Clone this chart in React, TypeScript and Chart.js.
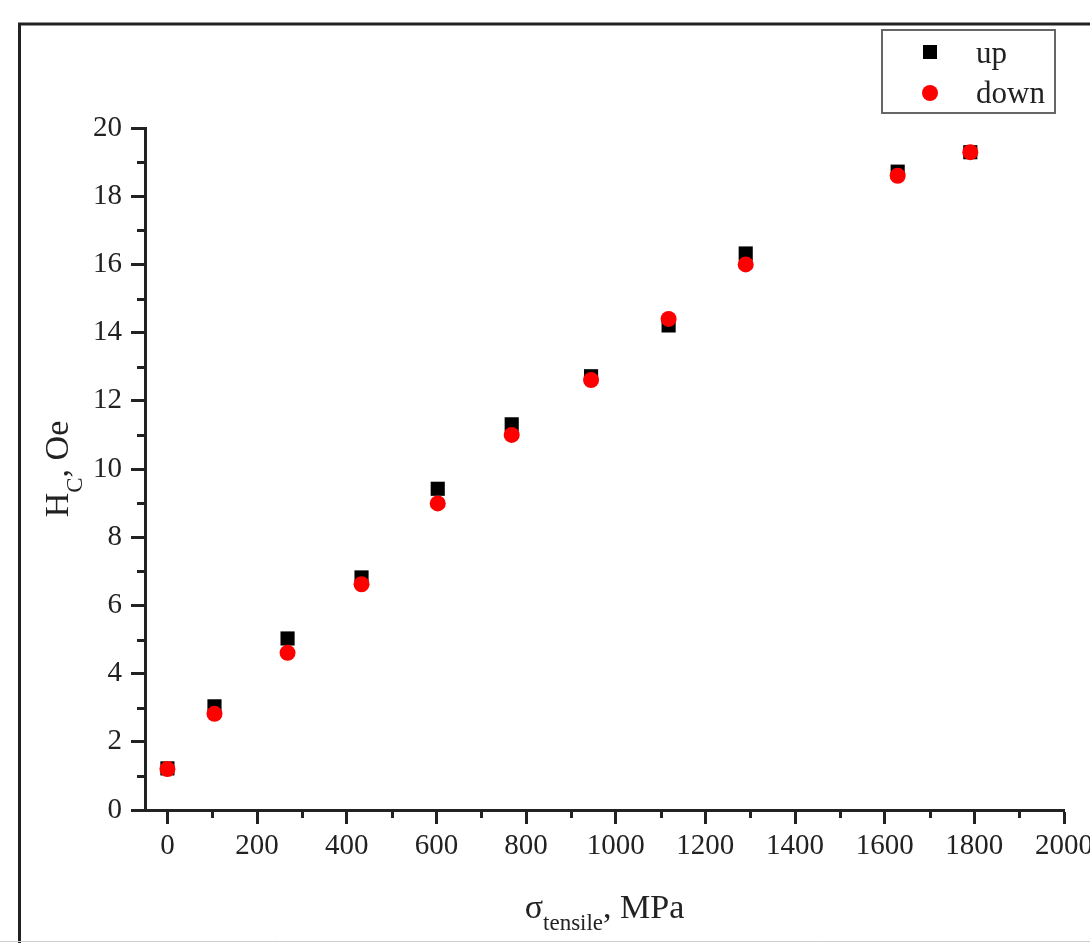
import React, { useEffect, useRef } from "react";
import { Chart, registerables } from "chart.js";

Chart.register(...registerables);

// ---- data ----
const STRESS_MPA = [0, 105, 268, 433, 603, 768, 945, 1118, 1290, 1629, 1791];
const HC_UP = [1.22, 3.04, 5.03, 6.82, 9.42, 11.31, 12.72, 14.21, 16.32, 18.72, 19.29];
const HC_DOWN = [1.2, 2.82, 4.61, 6.62, 8.99, 11.0, 12.61, 14.4, 16.0, 18.6, 19.29];
const SERIES_LABELS = ["up", "down"];

const X_TICKS = [0, 200, 400, 600, 800, 1000, 1200, 1400, 1600, 1800, 2000];
const X_MINOR = [100, 300, 500, 700, 900, 1100, 1300, 1500, 1700, 1900];
const Y_TICKS = [0, 2, 4, 6, 8, 10, 12, 14, 16, 18, 20];
const Y_MINOR = [1, 3, 5, 7, 9, 11, 13, 15, 17, 19];

const W = 1090;
const H = 943;
const SERIF = '"Liberation Serif", "Times New Roman", serif';
const INK = "#222222";

const decorPlugin = {
  id: "decor",
  afterDraw(chart: any) {
    const ctx = chart.ctx as CanvasRenderingContext2D;
    const area = chart.chartArea;
    const xs = chart.scales.x;
    const ys = chart.scales.y;
    ctx.save();

    // outer frame
    ctx.strokeStyle = INK;
    ctx.lineWidth = 3;
    ctx.beginPath();
    ctx.moveTo(19.5, H);
    ctx.lineTo(19.5, 24);
    ctx.lineTo(W, 24);
    ctx.stroke();
    ctx.strokeStyle = "#cfcfcf";
    ctx.lineWidth = 1;
    ctx.beginPath();
    ctx.moveTo(0, 941.5);
    ctx.lineTo(W, 941.5);
    ctx.stroke();

    // minor ticks
    ctx.strokeStyle = INK;
    ctx.lineWidth = 3;
    ctx.beginPath();
    for (const v of Y_MINOR) {
      const p = Math.round(ys.getPixelForValue(v)) + 0.5;
      ctx.moveTo(area.left - 8, p);
      ctx.lineTo(area.left, p);
    }
    for (const v of X_MINOR) {
      const p = Math.round(xs.getPixelForValue(v)) + 0.5;
      ctx.moveTo(p, area.bottom);
      ctx.lineTo(p, area.bottom + 8);
    }
    ctx.stroke();

    // x title: σ_tensile, MPa
    const mainF = `34px ${SERIF}`;
    const subF = `23px ${SERIF}`;
    ctx.fillStyle = INK;
    ctx.textBaseline = "alphabetic";
    ctx.textAlign = "left";
    const parts = [
      { t: "σ", f: mainF, dy: 0 },
      { t: "tensile", f: subF, dy: 12 },
      { t: ",", f: mainF, dy: 0 },
      { t: " MPa", f: mainF, dy: 0 },
    ];
    let total = 0;
    for (const p of parts) {
      ctx.font = p.f;
      total += ctx.measureText(p.t).width;
    }
    let cx = (area.left + area.right) / 2 - total / 2;
    for (const p of parts) {
      ctx.font = p.f;
      ctx.fillText(p.t, cx, 918 + p.dy);
      cx += ctx.measureText(p.t).width;
    }

    // y title: H_C, Oe (rotated)
    const yparts = [
      { t: "H", f: mainF, dy: 0 },
      { t: "C", f: subF, dy: 14 },
      { t: ", Oe", f: mainF, dy: 0 },
    ];
    let ytotal = 0;
    for (const p of yparts) {
      ctx.font = p.f;
      ytotal += ctx.measureText(p.t).width;
    }
    ctx.save();
    ctx.translate(68, (area.top + area.bottom) / 2 + ytotal / 2);
    ctx.rotate(-Math.PI / 2);
    let yx = 0;
    for (const p of yparts) {
      ctx.font = p.f;
      ctx.fillText(p.t, yx, p.dy);
      yx += ctx.measureText(p.t).width;
    }
    ctx.restore();

    // legend
    ctx.strokeStyle = "#666666";
    ctx.lineWidth = 2;
    ctx.strokeRect(882, 30, 173, 83);
    const ds = chart.data.datasets;
    ctx.fillStyle = ds[0].backgroundColor;
    ctx.fillRect(923, 45, 14, 14);
    ctx.fillStyle = ds[1].backgroundColor;
    ctx.beginPath();
    ctx.arc(930, 93, 8, 0, Math.PI * 2);
    ctx.fill();
    ctx.fillStyle = INK;
    ctx.font = `31px ${SERIF}`;
    ctx.fillText(ds[0].label, 976, 63);
    ctx.fillText(ds[1].label, 976, 103);

    ctx.restore();
  },
};

export default function App() {
  const ref = useRef<HTMLCanvasElement | null>(null);

  useEffect(() => {
    if (!ref.current) return;
    const chart = new Chart(ref.current, {
      type: "scatter",
      data: {
        datasets: [
          {
            label: SERIES_LABELS[0],
            data: STRESS_MPA.map((x, i) => ({ x, y: HC_UP[i] })),
            backgroundColor: "#000000",
            borderColor: "#000000",
            pointStyle: "rect",
            pointRadius: 10,
            pointBorderWidth: 0,
            order: 1,
          },
          {
            label: SERIES_LABELS[1],
            data: STRESS_MPA.map((x, i) => ({ x, y: HC_DOWN[i] })),
            backgroundColor: "#ff0000",
            borderColor: "#ff0000",
            pointStyle: "circle",
            pointRadius: 8,
            pointBorderWidth: 0,
            order: 0,
          },
        ],
      },
      options: {
        responsive: false,
        animation: false,
        events: [],
        layout: { padding: { left: 0, top: 128, right: 26, bottom: 0 } },
        plugins: {
          legend: { display: false },
          tooltip: { enabled: false },
          title: { display: false },
        },
        scales: {
          x: {
            type: "linear",
            min: -50,
            max: 2000,
            afterBuildTicks: (s: any) => {
              s.ticks = X_TICKS.map((v) => ({ value: v }));
            },
            afterFit: (s: any) => {
              s.height = 133;
              s.paddingLeft = 0;
              s.paddingRight = 0;
            },
            grid: {
              drawOnChartArea: false,
              drawTicks: true,
              tickLength: 14,
              tickWidth: 3,
              tickColor: INK,
            },
            border: { display: true, color: INK, width: 3 },
            ticks: {
              color: INK,
              font: { family: SERIF, size: 29 },
              padding: 5,
              maxRotation: 0,
              autoSkip: false,
              callback: (v: any) => String(v),
            },
          },
          y: {
            type: "linear",
            min: 0,
            max: 20,
            afterBuildTicks: (s: any) => {
              s.ticks = Y_TICKS.map((v) => ({ value: v }));
            },
            afterFit: (s: any) => {
              s.width = 145;
              s.paddingTop = 0;
              s.paddingBottom = 0;
            },
            grid: {
              drawOnChartArea: false,
              drawTicks: true,
              tickLength: 14,
              tickWidth: 3,
              tickColor: INK,
            },
            border: { display: true, color: INK, width: 3 },
            ticks: {
              color: INK,
              font: { family: SERIF, size: 29 },
              padding: 9,
              autoSkip: false,
              callback: (v: any) => String(v),
            },
          },
        },
      },
      plugins: [decorPlugin],
    });
    return () => chart.destroy();
  }, []);

  return (
    <div style={{ position: "fixed", left: 0, top: 0, width: W, height: H, background: "#ffffff" }}>
      <canvas ref={ref} width={W} height={H} style={{ display: "block", width: W, height: H }} />
    </div>
  );
}
